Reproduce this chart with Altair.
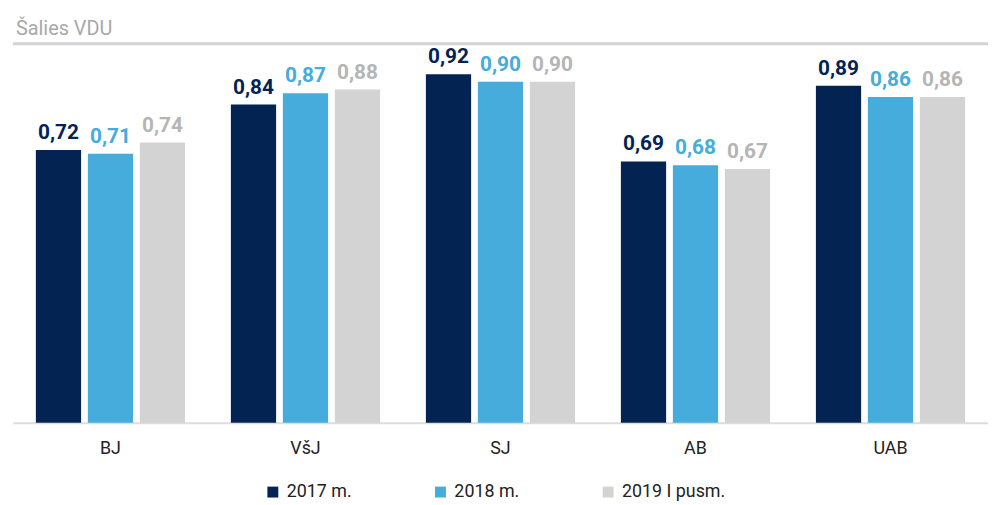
import altair as alt
import pandas as pd

categories = ["BJ", "VšJ", "SJ", "AB", "UAB"]
series = ["2017 m.", "2018 m.", "2019 I pusm."]
v2017 = [0.72, 0.84, 0.92, 0.69, 0.89]
v2018 = [0.71, 0.87, 0.90, 0.68, 0.86]
v2019 = [0.74, 0.88, 0.90, 0.67, 0.86]
bar_colors = ["#032452", "#45acdb", "#d3d3d3"]
label_colors = ["#032452", "#45acdb", "#b5b5b5"]

rows = []
for s, vals in zip(series, [v2017, v2018, v2019]):
    for c, v in zip(categories, vals):
        rows.append({"cat": c, "series": s, "value": v,
                     "label": f"{v:.2f}".replace(".", ",")})
df = pd.DataFrame(rows)

FONT = "Roboto"

x = alt.X("cat:N", sort=categories, title=None,
          scale=alt.Scale(paddingInner=0.235, paddingOuter=0.1175),
          axis=alt.Axis(labelAngle=0, ticks=False, domainColor="#dddddd",
                        domainWidth=2, labelFontSize=18, labelColor="#222222",
                        labelFont=FONT, labelPadding=17))
xoff = alt.XOffset("series:N", sort=series,
                   scale=alt.Scale(paddingInner=0.13, paddingOuter=0))
y = alt.Y("value:Q", scale=alt.Scale(domain=[0, 0.985]), axis=None)

bars = alt.Chart(df).mark_bar().encode(
    x=x, xOffset=xoff, y=y,
    color=alt.Color("series:N", sort=series,
                    scale=alt.Scale(domain=series, range=bar_colors),
                    legend=alt.Legend(title=None, orient="none", direction="horizontal",
                                      legendX=253, legendY=437, symbolType="square",
                                      symbolSize=121, symbolStrokeWidth=0,
                                      labelFontSize=18, labelColor="#222222",
                                      labelFont=FONT, columnPadding=80,
                                      labelOffset=5)),
)

labels = alt.Chart(df).mark_text(baseline="bottom", dy=-7, fontSize=21,
                                 fontWeight="bold", font=FONT).encode(
    x=x, xOffset=xoff, y=y, text="label:N",
    color=alt.Color("series:N", sort=series,
                    scale=alt.Scale(domain=series, range=label_colors),
                    legend=None),
)

title_df = pd.DataFrame({"t": ["Šalies VDU"]})
title = alt.Chart(title_df).mark_text(align="left", baseline="middle", fontSize=20,
                                      font=FONT, color="#a8a8a8").encode(
    x=alt.value(3), y=alt.value(-21), text="t:N")
rule = alt.Chart(title_df).mark_rule(color="#d3d3d3", strokeWidth=3).encode(
    x=alt.value(0), x2=alt.value(983), y=alt.value(-6))

chart = alt.layer(bars, labels, title, rule).resolve_scale(color="independent").properties(
    width=983, height=376,
    autosize=alt.AutoSizeParams(type="none"),
    padding={"left": 5, "top": 40, "right": 0, "bottom": 80},
).configure_view(stroke=None)

chart.save("out.html", embed_options={"renderer": "svg", "actions": False})
